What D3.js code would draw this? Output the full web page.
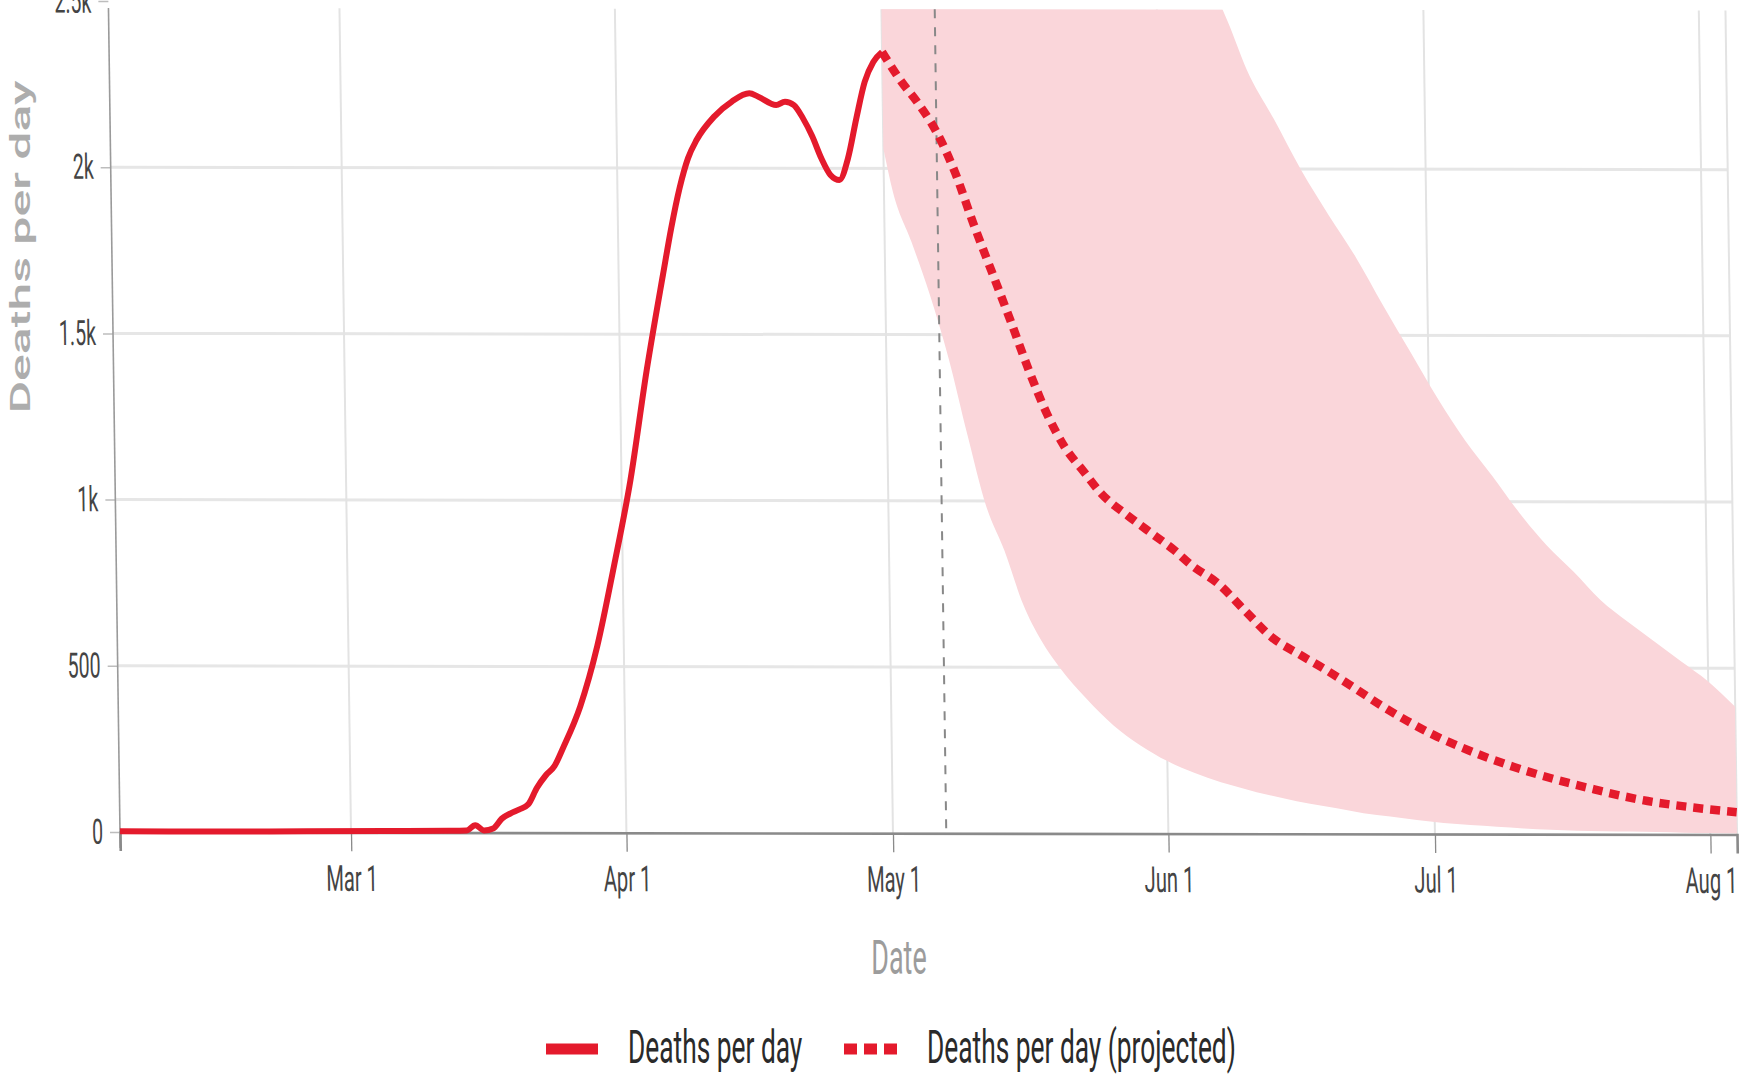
<!DOCTYPE html>
<html>
<head>
<meta charset="utf-8">
<script src="https://cdn.jsdelivr.net/npm/d3@7"></script>
<style>
  html, body { margin: 0; padding: 0; background: #ffffff; }
  svg { display: block; }
</style>
</head>
<body>
<svg id="chart" width="1759" height="1076"></svg>
<script>
// ---- data -------------------------------------------------------------
const observedDates = [
  "2020-02-04","2020-02-15","2020-02-25","2020-03-05","2020-03-12","2020-03-14",
  "2020-03-15","2020-03-16","2020-03-17","2020-03-18","2020-03-19","2020-03-20",
  "2020-03-21","2020-03-22","2020-03-23","2020-03-24","2020-03-25","2020-03-27",
  "2020-03-29","2020-03-31","2020-04-02","2020-04-04","2020-04-06","2020-04-07",
  "2020-04-08","2020-04-09","2020-04-10","2020-04-12","2020-04-14","2020-04-16",
  "2020-04-17","2020-04-19","2020-04-20","2020-04-21","2020-04-22","2020-04-23",
  "2020-04-24","2020-04-25","2020-04-26","2020-04-27","2020-04-28","2020-04-29",
  "2020-04-30","2020-05-01"
];
const observedDeaths = [
  2, 2, 3, 4, 5, 6,
  22, 6, 12, 42, 58, 70,
  85, 135, 172, 200, 255, 380,
  560, 800, 1060, 1390, 1680, 1820,
  1940, 2030, 2085, 2155, 2200, 2225,
  2215, 2190, 2200, 2190, 2150, 2097,
  2030, 1980, 1965, 2030, 2150, 2260,
  2320, 2350
];

const projectedDates = [
  "2020-05-01","2020-05-03","2020-05-05","2020-05-07","2020-05-09","2020-05-11",
  "2020-05-13","2020-05-15","2020-05-17","2020-05-19","2020-05-21","2020-05-23",
  "2020-05-25","2020-05-28","2020-05-31","2020-06-02","2020-06-04","2020-06-07",
  "2020-06-10","2020-06-13","2020-06-16","2020-06-19","2020-06-22","2020-06-25",
  "2020-06-28","2020-07-01","2020-07-04","2020-07-07","2020-07-10","2020-07-13",
  "2020-07-16","2020-07-19","2020-07-22","2020-07-25","2020-07-28","2020-07-31",
  "2020-08-04"
];
const projectedDeaths = [
  2350, 2266, 2195, 2110, 1990, 1835,
  1690, 1545, 1395, 1262, 1160, 1090,
  1022, 955, 895, 855, 808, 752,
  670, 590, 540, 493, 442, 389,
  341, 298, 262, 230, 202, 177,
  155, 135, 116, 100, 88, 78,
  67
];

// uncertainty interval of the projection
const bandDates = [
  "2020-05-01","2020-05-02","2020-05-04","2020-05-06","2020-05-08","2020-05-10",
  "2020-05-12","2020-05-14","2020-05-16","2020-05-18","2020-05-20","2020-05-23",
  "2020-05-26","2020-05-29","2020-06-01","2020-06-04","2020-06-07","2020-06-09",
  "2020-06-11","2020-06-14","2020-06-17","2020-06-20","2020-06-23","2020-06-26",
  "2020-06-29","2020-07-02","2020-07-05","2020-07-08","2020-07-11","2020-07-14",
  "2020-07-17","2020-07-20","2020-07-23","2020-07-26","2020-07-29","2020-08-01",
  "2020-08-04"
];
const bandLower = [
  2060, 1930, 1780, 1620, 1430, 1200,
  985, 850, 690, 580, 500, 405,
  325, 265, 218, 183, 155, 140,
  125, 107, 90, 77, 62, 52,
  42, 33, 27, 22, 17, 13,
  10, 9, 8, 7, 5, 4,
  3
];
const bandUpper = [
  2800, 2950, 3150, 3250, 3300, 3320,
  3300, 3280, 3250, 3200, 3150, 3050,
  2950, 2850, 2740, 2640, 2560, 2440,
  2300, 2150, 1996, 1862, 1735, 1590,
  1450, 1310, 1185, 1078, 967, 870,
  790, 705, 640, 580, 520, 460,
  384
];

const xStart = "2020-02-04";
const xEnd = "2020-08-04";
const xTickDates = ["2020-03-01","2020-04-01","2020-05-01","2020-06-01","2020-07-01","2020-08-01"];
const xTickLabels = ["Mar 1","Apr 1","May 1","Jun 1","Jul 1","Aug 1"];
const yTickValues = [0, 500, 1000, 1500, 2000, 2500];
const yTickLabels = ["0", "500", "1k", "1.5k", "2k", "2.5k"];
const todayDate = "2020-05-07";
const legendLabels = ["Deaths per day", "Deaths per day (projected)"];

// ---- setup ------------------------------------------------------------
const parse = d3.utcParse("%Y-%m-%d");
const RED = "#e41a2c";
const BAND = "#fad6da";
const TEXT_SX = 0.56;             // narrow lettering
const FONT = "Roboto, 'Liberation Sans', Arial, sans-serif";

const plotLeft = 120, plotRight = 1737, plotTop = 8, baseY = 832;

const x = d3.scaleUtc()
  .domain([parse(xStart), parse(xEnd)])
  .range([plotLeft, plotRight]);
const y = d3.scaleLinear()
  .domain([0, 2500])
  .range([baseY, 1]);

const svg = d3.select("#chart");

// slight slant of the whole plotting frame
const k = 0.014, m = 0.0015;
const frame = svg.append("g")
  .attr("transform", `matrix(1,${m},${k},1,${-k * baseY},${-m * plotLeft})`);

frame.append("clipPath").attr("id", "plotClip")
  .append("rect")
  .attr("x", plotLeft).attr("y", plotTop)
  .attr("width", plotRight - plotLeft).attr("height", baseY - plotTop);

// ---- grid ---------------------------------------------------------------
const grid = frame.append("g");
grid.selectAll("line.hgrid")
  .data(yTickValues.filter(v => v > 0 && y(v) > plotTop))
  .join("line")
  .attr("class", "hgrid")
  .attr("x1", plotLeft).attr("x2", plotRight)
  .attr("y1", d => y(d)).attr("y2", d => y(d))
  .attr("stroke", "#e6e6e6").attr("stroke-width", 3);

grid.selectAll("line.vgrid")
  .data(xTickDates.concat([xEnd]).map(parse))
  .join("line")
  .attr("class", "vgrid")
  .attr("x1", d => x(d)).attr("x2", d => x(d))
  .attr("y1", plotTop).attr("y2", baseY)
  .attr("stroke", "#e3e3e3").attr("stroke-width", 2);

// ---- uncertainty band ---------------------------------------------------
const band = bandDates.map((d, i) => ({ date: parse(d), lo: bandLower[i], hi: bandUpper[i] }));
frame.append("path")
  .datum(band)
  .attr("clip-path", "url(#plotClip)")
  .attr("fill", BAND)
  .attr("d", d3.area()
    .curve(d3.curveMonotoneX)
    .x(d => x(d.date))
    .y0(d => y(d.lo))
    .y1(d => y(d.hi)));

// ---- today marker -------------------------------------------------------
frame.append("line")
  .attr("x1", x(parse(todayDate))).attr("x2", x(parse(todayDate)))
  .attr("y1", plotTop).attr("y2", baseY)
  .attr("stroke", "#888").attr("stroke-width", 2)
  .attr("stroke-dasharray", "9 9");

// ---- axes -----------------------------------------------------------------
const yAxis = frame.append("g")
  .attr("transform", `translate(${plotLeft},0)`)
  .call(d3.axisLeft(y)
    .tickValues(yTickValues)
    .tickFormat((d, i) => yTickLabels[i])
    .tickSize(10)
    .tickSizeOuter(0));
yAxis.select(".domain").remove();
yAxis.append("line")
  .attr("x1", 0).attr("x2", 0)
  .attr("y1", plotTop).attr("y2", baseY + 16)
  .attr("stroke", "#9a9a9a").attr("stroke-width", 1.6);
yAxis.selectAll(".tick line").attr("stroke", "#bdbdbd").attr("stroke-width", 1.5);
yAxis.selectAll(".tick text")
  .attr("x", -17 / TEXT_SX)
  .attr("transform", `scale(${TEXT_SX},1)`)
  .attr("fill", "#444")
  .style("font-family", FONT)
  .style("font-size", "35px");

const xAxis = frame.append("g")
  .attr("transform", `translate(0,${baseY})`)
  .call(d3.axisBottom(x)
    .tickValues(xTickDates.map(parse))
    .tickFormat((d, i) => xTickLabels[i])
    .tickSize(19)
    .tickSizeOuter(19)
    .tickPadding(14));
xAxis.select(".domain").attr("stroke", "#8a8a8a").attr("stroke-width", 2.6);
xAxis.selectAll(".tick line").attr("stroke", "#8a8a8a").attr("stroke-width", 1.3);
xAxis.selectAll(".tick text")
  .attr("transform", `scale(${TEXT_SX},1)`)
  .attr("fill", "#444")
  .style("font-family", FONT)
  .style("font-size", "36px");

// ---- lines ----------------------------------------------------------------
const observed = observedDates.map((d, i) => ({ date: parse(d), v: observedDeaths[i] }));
const projected = projectedDates.map((d, i) => ({ date: parse(d), v: projectedDeaths[i] }));
const line = d3.line().curve(d3.curveMonotoneX).x(d => x(d.date)).y(d => y(d.v));

frame.append("path")
  .datum(projected)
  .attr("fill", "none")
  .attr("stroke", RED)
  .attr("stroke-width", 8.5)
  .attr("stroke-dasharray", "10 7")
  .attr("d", line);

frame.append("path")
  .datum(observed)
  .attr("fill", "none")
  .attr("stroke", RED)
  .attr("stroke-width", 6)
  .attr("stroke-linejoin", "round")
  .attr("d", line);

// ---- titles -----------------------------------------------------------------
svg.append("text")
  .attr("transform", `translate(20,247) scale(${TEXT_SX},1) rotate(-90)`)
  .attr("text-anchor", "middle")
  .attr("dominant-baseline", "central")
  .attr("fill", "#adadad")
  .style("font-family", FONT)
  .style("font-weight", 500)
  .style("font-size", "50px")
  .text("Deaths per day");

svg.append("text")
  .attr("transform", `translate(899,974) scale(${TEXT_SX},1)`)
  .attr("text-anchor", "middle")
  .attr("fill", "#9c9c9c")
  .style("font-family", FONT)
  .style("font-size", "48px")
  .text("Date");

// ---- legend -------------------------------------------------------------------
const legend = svg.append("g");
legend.append("line")
  .attr("x1", 546).attr("x2", 598).attr("y1", 1049).attr("y2", 1049)
  .attr("stroke", RED).attr("stroke-width", 11);
legend.append("text")
  .attr("transform", `translate(628,1063) scale(${TEXT_SX},1)`)
  .attr("fill", "#2a2a2a")
  .style("font-family", FONT)
  .style("font-size", "47px")
  .text(legendLabels[0]);
legend.append("line")
  .attr("x1", 844).attr("x2", 897).attr("y1", 1049).attr("y2", 1049)
  .attr("stroke", RED).attr("stroke-width", 11)
  .attr("stroke-dasharray", "13 7");
legend.append("text")
  .attr("transform", `translate(927,1063) scale(${TEXT_SX},1)`)
  .attr("fill", "#2a2a2a")
  .style("font-family", FONT)
  .style("font-size", "47px")
  .text(legendLabels[1]);
</script>
</body>
</html>
